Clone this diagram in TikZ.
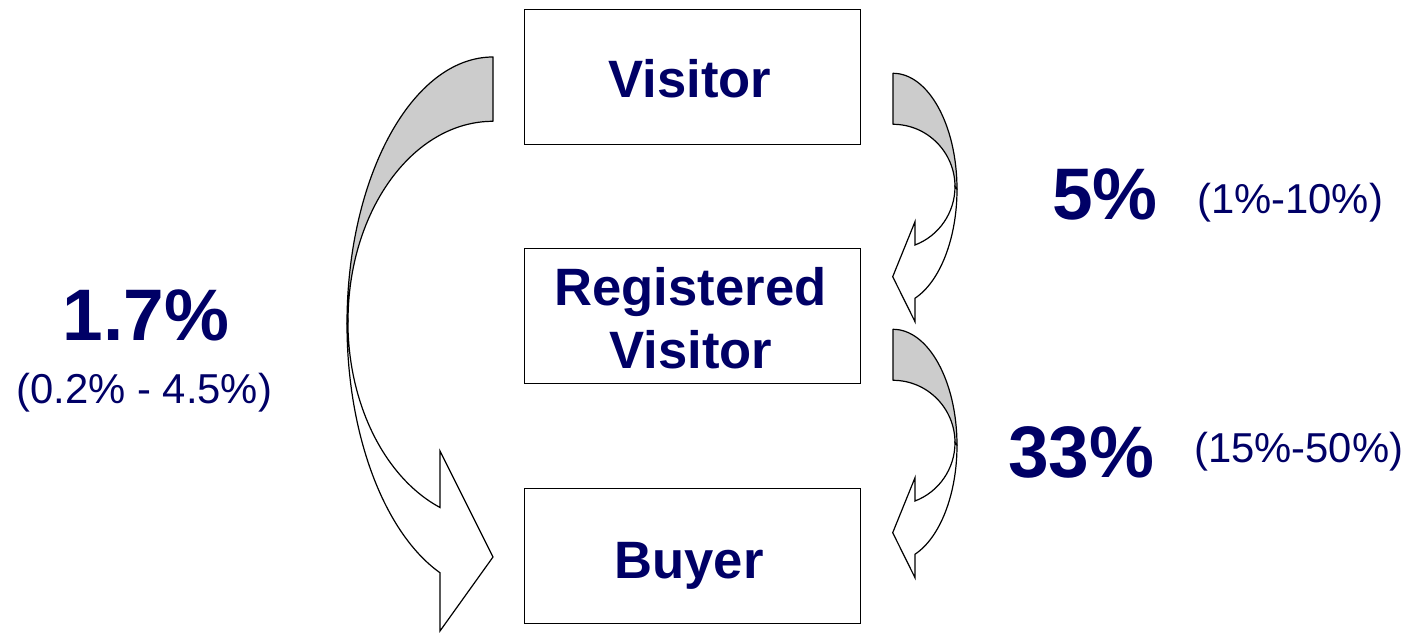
\documentclass[tikz,border=0pt]{standalone}
\usepackage{fontspec}
\setmainfont{Liberation Sans}
\definecolor{navy}{HTML}{000066}
\definecolor{backgray}{HTML}{CCCCCC}
\tikzset{
  box/.style={draw=black, line width=1.3pt, fill=white, minimum width=336.4pt, minimum height=135pt, inner sep=0pt},
  boxtext/.style={text=navy, font=\fontsize{52.6}{62}\selectfont\bfseries, anchor=base, inner sep=0pt},
  bigpct/.style={text=navy, font=\fontsize{73}{86}\selectfont\bfseries, inner sep=0pt},
  rangetxt/.style={text=navy, font=\fontsize{41.8}{49}\selectfont, inner sep=0pt},
  bandback/.style={draw=black, line width=1.2pt, fill=backgray, line join=round},
  bandfront/.style={draw=black, line width=1.2pt, fill=white, line join=miter},
  rightcurve/.pic={
    \path[bandback] (893,558.7) arc[start angle=90,end angle=0,x radius=64,y radius=116]
      -- (955,445.3) arc[start angle=0,end angle=90,x radius=62,y radius=62.4] -- cycle;
    \path[bandfront] (957,442.7) arc[start angle=0,end angle=-69.9,x radius=64,y radius=116]
      -- (915,310.3) -- (892.7,355.3) -- (915,410.3) -- (915,387)
      arc[start angle=-69.2,end angle=0,x radius=62,y radius=62.4] -- cycle;
  }
}
\begin{document}
\begin{tikzpicture}[x=1pt,y=1pt]
\useasboundingbox (0,0) rectangle (1410,632);
% left long curved arrow
\path[bandback] (493,575) arc[start angle=90,end angle=180,x radius=146,y radius=267]
  -- (348,310.7) arc[start angle=180,end angle=90,x radius=145,y radius=200] -- cycle;
\path[bandfront] (347,308) arc[start angle=180,end angle=248.7,x radius=146,y radius=267]
  -- (440,1) -- (493,75) -- (440,181) -- (440,124.5)
  arc[start angle=248.6,end angle=180,x radius=145,y radius=200] -- cycle;
% right curved arrows
\pic (rc1) at (0,0) {rightcurve};
\pic (rc2) at (0,-256) {rightcurve};
% boxes
\node[box] (visitor) at (692.5,555.2) {};
\node[box] (registered) at (692.5,315.85) {};
\node[box] (buyer) at (692.5,75.85) {};
\node[boxtext] (tvisitor) at (690,534.3) {Visitor};
\node[boxtext] (treg1) at (690.5,326.3) {Registered};
\node[boxtext] (treg2) at (690.8,263.7) {Visitor};
\node[boxtext] (tbuyer) at (689,53.7) {Buyer};
% labels
\node[bigpct, anchor=base] (p17) at (146,291.3) {1.7\%};
\node[rangetxt, anchor=base] (r17) at (144.3,228) {(0.2\% - 4.5\%)};
\node[bigpct, anchor=base west] (p5) at (1052,412) {5\%};
\node[rangetxt, anchor=base west] (r5) at (1197,418.7) {(1\%-10\%)};
\node[bigpct, anchor=base west] (p33) at (1008,154.7) {33\%};
\node[rangetxt, anchor=base west] (r33) at (1194,169.3) {(15\%-50\%)};
\end{tikzpicture}
\end{document}
